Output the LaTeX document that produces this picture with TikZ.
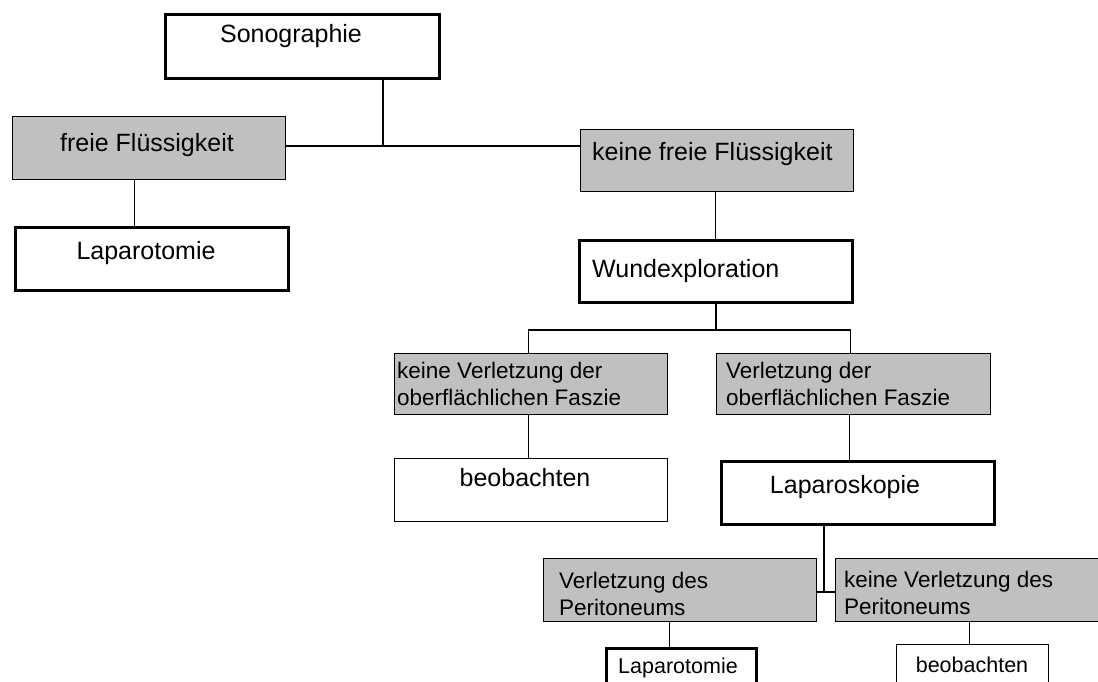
\documentclass[tikz,border=0pt]{standalone}
\usepackage{fontspec}
\setmainfont{Liberation Sans}
\definecolor{boxgray}{RGB}{192,192,192}
\tikzset{
  plainbox/.style={draw, line width=1.3pt, inner sep=0pt, anchor=north west, minimum height=63pt},
  greybox/.style={plainbox, fill=boxgray},
  boldbox/.style={plainbox, line width=3pt},
  bigtext/.style={inner sep=0pt, font=\fontsize{25}{30}\selectfont},
  smalltext/.style={inner sep=0pt, align=left, font=\fontsize{22.5}{27}\selectfont},
  bottomtext/.style={inner sep=0pt, font=\fontsize{21.5}{26}\selectfont},
  joint/.style={line width=1.3pt}
}
\begin{document}
\begin{tikzpicture}[x=1pt,y=-1pt]
\useasboundingbox (0,0) rectangle (1098,681);
\clip (0,0) rectangle (1098,681);
\node[boldbox, minimum width=274pt, minimum height=64pt] (sono) at (163.5,12.5) {};
\node[greybox, minimum width=273pt] (fluid) at (11.5,115.5) {};
\node[boldbox, minimum width=273pt] (lapa1) at (13.5,225.5) {};
\node[greybox, minimum width=273pt, minimum height=62pt] (nofluid) at (579.5,128.5) {};
\node[boldbox, minimum width=273pt, minimum height=62pt] (wound) at (577.5,238.5) {};
\node[greybox, minimum width=273pt, minimum height=61pt] (nofascia) at (393.5,352.5) {};
\node[greybox, minimum width=274pt, minimum height=61pt] (fascia) at (715.5,352.5) {};
\node[plainbox, minimum width=273pt] (observe1) at (393.5,457.5) {};
\node[boldbox, minimum width=273pt] (lapsc) at (719.5,459.5) {};
\node[greybox, minimum width=273pt] (perit) at (542.5,557.5) {};
\node[greybox, minimum width=273pt] (noperit) at (834.5,557.5) {};
\node[boldbox, minimum width=150pt] (lapa2) at (604.5,646.5) {};
\node[plainbox, minimum width=152pt] (observe2) at (895.5,643.5) {};

\node[bigtext, anchor=base] (sono-t) at (291,42) {Sonographie};
\node[bigtext, anchor=base] (fluid-t) at (147,151) {freie Flüssigkeit};
\node[bigtext, anchor=base] (lapa1-t) at (146,259) {Laparotomie};
\node[bigtext, anchor=base west] (nofluid-t) at (592,160) {keine freie Flüssigkeit};
\node[bigtext, anchor=base west] (wound-t) at (592,277) {Wundexploration};
\node[smalltext, anchor=base west] (nofascia-t) at (397,405) {keine Verletzung der\\oberflächlichen Faszie};
\node[smalltext, anchor=base west] (fascia-t) at (726,405) {Verletzung der\\oberflächlichen Faszie};
\node[bigtext, anchor=base] (observe1-t) at (525,486) {beobachten};
\node[bigtext, anchor=base] (lapsc-t) at (845,493) {Laparoskopie};
\node[smalltext, anchor=base west] (perit-t) at (559,615) {Verletzung des\\Peritoneums};
\node[smalltext, anchor=base west] (noperit-t) at (844,614) {keine Verletzung des\\Peritoneums};
\node[bottomtext, anchor=base] (lapa2-t) at (678,673) {Laparotomie};
\node[bottomtext, anchor=base] (observe2-t) at (972,672) {beobachten};

\coordinate (split1) at (383,146);
\coordinate (split2) at (716,330);
\coordinate (split3) at (824,592);
\draw[joint] (sono.south -| split1) -- (split1);
\draw[joint] (fluid.east |- split1) -- (nofluid.west |- split1);
\draw[joint] ([xshift=-14pt]fluid.south) -- ([xshift=-14pt]fluid.south |- lapa1.north);
\draw[joint] (wound.north) -- (wound.north |- nofluid.south);
\draw[joint] (wound.south -| split2) -- (split2);
\draw[joint] ([xshift=-2pt]nofascia.north) |- (split2) -| ([xshift=-3pt]fascia.north);
\draw[joint] ([xshift=-2pt]nofascia.south) -- ([xshift=-2pt]observe1.north);
\draw[joint] ([xshift=-4pt]fascia.south) -- ([xshift=-4pt]fascia.south |- lapsc.north);
\draw[joint] (lapsc.south -| split3) -- (split3);
\draw[joint] (perit.east |- split3) -- (noperit.west |- split3);
\draw[joint] ([xshift=-10pt]perit.south) -- ([xshift=-10pt]perit.south |- lapa2.north);
\draw[joint] ([xshift=-3pt]observe2.north) -- ([xshift=-3pt]observe2.north |- noperit.south);
\end{tikzpicture}
\end{document}
